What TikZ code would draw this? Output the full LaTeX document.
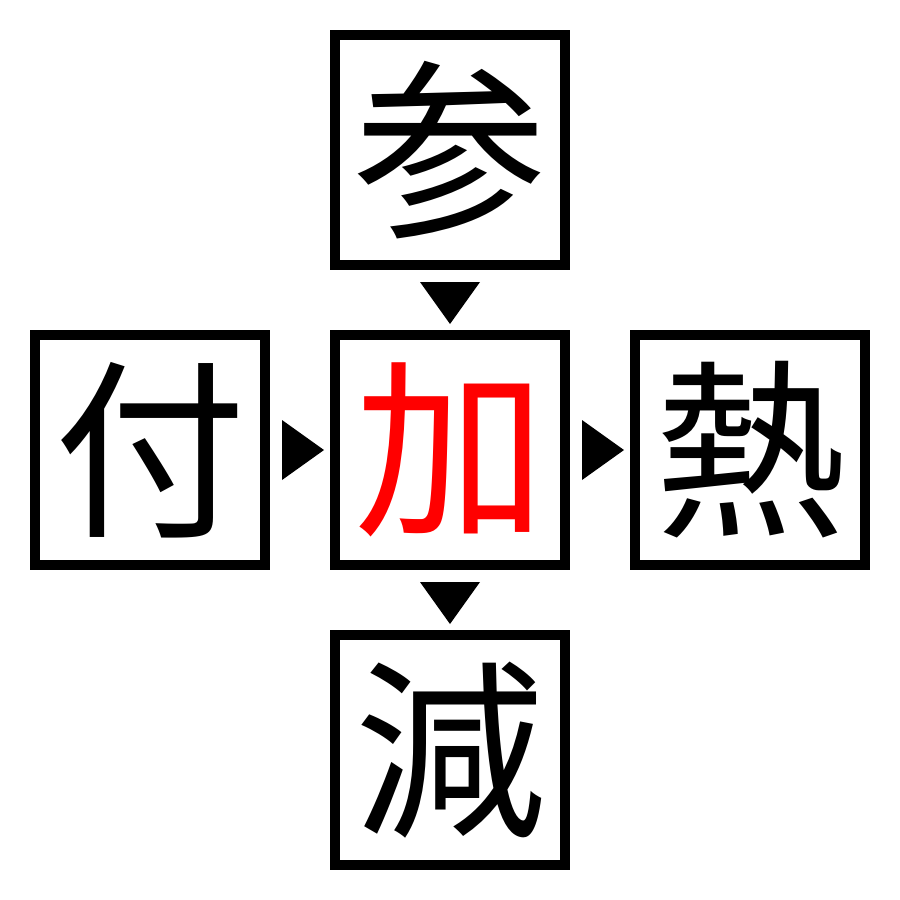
\documentclass[tikz,border=0pt]{standalone}
\usepackage{fontspec}
\newfontfamily\cjk{Noto Sans CJK JP}
\definecolor{kred}{RGB}{255,0,0}
\begin{document}
\begin{tikzpicture}[x=1pt,y=-1pt,
  kbox/.style={draw=black,line width=10pt,minimum size=230pt,inner sep=0pt,outer sep=0pt,
    font=\cjk\fontsize{192pt}{192pt}\selectfont,text=black},
  tri/.style={fill=black}]
\useasboundingbox (0,0) rectangle (900,900);
\node[kbox] (top) at (450,150) {参};
\node[kbox] (left) at (150,450) {付};
\node[kbox,text=kred] (mid) at (450,450) {加};
\node[kbox] (right) at (750,450) {熱};
\node[kbox] (bot) at (450,750) {減};
% down triangles
\fill[tri] ([xshift=-30pt,yshift=-17pt]top.south) -- ([xshift=30pt,yshift=-17pt]top.south) -- ([yshift=-59pt]top.south) -- cycle;
\fill[tri] ([xshift=-30pt,yshift=-17pt]mid.south) -- ([xshift=30pt,yshift=-17pt]mid.south) -- ([yshift=-59pt]mid.south) -- cycle;
% right triangles
\fill[tri] ([xshift=17pt,yshift=30pt]left.east) -- ([xshift=17pt,yshift=-30pt]left.east) -- ([xshift=59pt]left.east) -- cycle;
\fill[tri] ([xshift=17pt,yshift=30pt]mid.east) -- ([xshift=17pt,yshift=-30pt]mid.east) -- ([xshift=59pt]mid.east) -- cycle;
\end{tikzpicture}
\end{document}
